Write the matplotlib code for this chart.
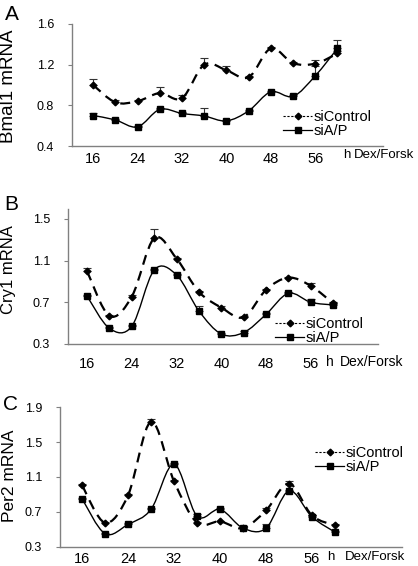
import numpy as np
import matplotlib
matplotlib.use("Agg")
import matplotlib.pyplot as plt
from matplotlib.path import Path
from matplotlib.patches import PathPatch
from matplotlib.lines import Line2D

plt.rcParams['font.family'] = ['Liberation Sans', 'DejaVu Sans']

# hours after Dex/Forsk
hours = [16, 20, 24, 28, 32, 36, 40, 44, 48, 52, 56, 60]
tick_hours = [16, 24, 32, 40, 48, 56]

# Bmal1
bmal1_ctrl = [1.00, 0.83, 0.84, 0.92, 0.87, 1.20, 1.145, 1.076, 1.36, 1.215, 1.21, 1.31]
bmal1_ctrl_err = [0.06, 0.02, 0.01, 0.06, 0.03, 0.07, 0.045, 0.01, 0.01, 0.01, 0.04, 0.02]
bmal1_ap = [0.70, 0.657, 0.588, 0.76, 0.72, 0.695, 0.647, 0.745, 0.933, 0.888, 1.09, 1.36]
bmal1_ap_err = [0.02, 0.01, 0.01, 0.01, 0.01, 0.08, 0.01, 0.01, 0.01, 0.01, 0.10, 0.08]

# Cry1
cry1_ctrl = [1.00, 0.57, 0.755, 1.315, 1.12, 0.80, 0.65, 0.557, 0.82, 0.937, 0.857, 0.69]
cry1_ctrl_err = [0.03, 0.01, 0.02, 0.09, 0.01, 0.01, 0.01, 0.01, 0.01, 0.01, 0.03, 0.01]
cry1_ap = [0.76, 0.45, 0.47, 1.01, 0.963, 0.617, 0.396, 0.41, 0.585, 0.787, 0.70, 0.675]
cry1_ap_err = [0.01, 0.01, 0.01, 0.01, 0.01, 0.045, 0.01, 0.01, 0.01, 0.01, 0.03, 0.01]

# Per2
per2_ctrl = [1.004, 0.573, 0.888, 1.734, 1.05, 0.573, 0.588, 0.511, 0.715, 1.023, 0.657, 0.542]
per2_ctrl_err = [0.01, 0.01, 0.01, 0.03, 0.01, 0.01, 0.01, 0.01, 0.025, 0.03, 0.01, 0.02]
per2_ap = [0.85, 0.447, 0.554, 0.727, 1.246, 0.65, 0.727, 0.511, 0.51, 0.94, 0.64, 0.465]
per2_ap_err = [0.01, 0.01, 0.02, 0.01, 0.01, 0.02, 0.015, 0.01, 0.05, 0.01, 0.01, 0.01]


def smooth_path(x, y):
    # Excel-style smoothed line: cubic bezier through the points
    pts = np.column_stack([x, y]).astype(float)
    n = len(pts)
    verts = [pts[0]]
    codes = [Path.MOVETO]
    for i in range(n - 1):
        p0 = pts[i - 1] if i > 0 else pts[i]
        p1, p2 = pts[i], pts[i + 1]
        p3 = pts[i + 2] if i + 2 < n else pts[i + 1]
        verts += [p1 + (p2 - p0) / 6, p2 - (p3 - p1) / 6, p2]
        codes += [Path.CURVE4] * 3
    return Path(verts, codes)


def draw_panel(rect, ctrl, ctrl_err, ap, ap_err, ylim, yticks, xlim,
               letter, letter_xy, ylabel, ylabel_xy, ylabel_size,
               leg_xy, hx, hsize, xpad):
    ax = fig.add_axes(rect)
    ax.errorbar(hours, ctrl, yerr=[np.zeros(len(ctrl)), ctrl_err], fmt='none',
                ecolor='#333333', elinewidth=0.8, capsize=3, capthick=0.8, zorder=2)
    ax.errorbar(hours, ap, yerr=[np.zeros(len(ap)), ap_err], fmt='none',
                ecolor='#333333', elinewidth=0.8, capsize=3, capthick=0.8, zorder=2)
    ax.add_patch(PathPatch(smooth_path(hours, ctrl), fill=False, ec='black',
                           lw=1.6, ls=(0, (4.5, 3)), zorder=3))
    ax.add_patch(PathPatch(smooth_path(hours, ap), fill=False, ec='black',
                           lw=1.0, zorder=3))
    ax.plot(hours, ctrl, ls='none', marker='D', ms=3.4, color='black', zorder=4)
    ax.plot(hours, ap, ls='none', marker='s', ms=4.3, color='black', zorder=4)

    ax.set_xlim(*xlim)
    ax.set_ylim(*ylim)
    ax.set_yticks(yticks)
    ax.set_yticklabels(['%.1f' % v for v in yticks], fontsize=9)
    ax.set_xticks(tick_hours)
    ax.set_xticklabels([str(h) for h in tick_hours], fontsize=10.5)
    ax.tick_params(axis='x', length=0, pad=xpad)
    ax.tick_params(axis='y', length=3, width=0.8, color='#808080', pad=10)
    for s in ['top', 'right']:
        ax.spines[s].set_visible(False)
    for s in ['left', 'bottom']:
        ax.spines[s].set_color('#808080')
        ax.spines[s].set_linewidth(1.0)

    fig.text(letter_xy[0], letter_xy[1], letter, fontsize=15, ha='center', va='center')
    fig.text(ylabel_xy[0], ylabel_xy[1], ylabel, fontsize=ylabel_size,
             rotation=90, ha='center', va='center')
    fig.text(hx[0], hx[2], 'h', fontsize=hsize, ha='left', va='center')
    fig.text(hx[1], hx[2], 'Dex/Forsk', fontsize=hsize, ha='left', va='center')

    handles = [Line2D([], [], color='black', lw=0.8, ls=(0, (2, 1.5)), marker='D', ms=3.4),
               Line2D([], [], color='black', lw=0.9, marker='s', ms=4.3)]
    fig.legend(handles, ['siControl', 'siA/P'], loc='center left',
               bbox_to_anchor=leg_xy, frameon=False, fontsize=10.5,
               handlelength=2.0, handletextpad=0.1, labelspacing=0.05,
               borderpad=0, borderaxespad=0)
    return ax


W, H = 418, 566
fig = plt.figure(figsize=(W / 100, H / 100), dpi=100)


def fx(px):
    return px / W


def fy(py):
    return 1 - py / H


draw_panel([fx(72), fy(146), fx(383 - 72), (146 - 24) / H],
           bmal1_ctrl, bmal1_ctrl_err, bmal1_ap, bmal1_ap_err,
           (0.4, 1.6), [0.4, 0.8, 1.2, 1.6], (12.2, 68.2),
           'A', (fx(12), fy(14)), 'Bmal1 mRNA', (fx(9), fy(86)), 13.5,
           (fx(283), fy(124)), (fx(343), fx(354), fy(155)), 9.5, 4)

draw_panel([fx(68), fy(344), fx(378 - 68), (344 - 209.3) / H],
           cry1_ctrl, cry1_ctrl_err, cry1_ap, cry1_ap_err,
           (0.3, 1.593), [0.3, 0.7, 1.1, 1.5], (12.6, 68.0),
           'B', (fx(11), fy(204)), 'Cry1 mRNA', (fx(9), fy(270)), 12,
           (fx(275), fy(331)), (fx(326), fx(340), fy(362)), 10, 9)

draw_panel([fx(60), fy(546.5), fx(402 - 60), (546.5 - 407.3) / H],
           per2_ctrl, per2_ctrl_err, per2_ap, per2_ap_err,
           (0.3, 1.9), [0.3, 0.7, 1.1, 1.5, 1.9], (12.17, 71.65),
           'C', (fx(11), fy(405)), 'Per2 mRNA', (fx(10), fy(476)), 12.5,
           (fx(315), fy(460)), (fx(327), fx(345), fy(557)), 9.5, 4)

fig.savefig('out.png', dpi=100)
